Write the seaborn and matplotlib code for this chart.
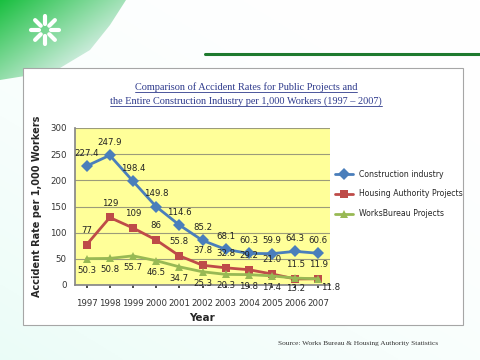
import numpy as np
import pandas as pd
import seaborn as sns
import matplotlib.pyplot as plt
from matplotlib.patches import Polygon, Rectangle

# Values
years = ['1997', '1998', '1999', '2000', '2001', '2002', '2003', '2004', '2005', '2006', '2007']
construction = [227.4, 247.9, 198.4, 149.8, 114.6, 85.2, 68.1, 60.3, 59.9, 64.3, 60.6]
housing = [77, 129, 109, 86, 55.8, 37.8, 32.8, 29.2, 21.0, 11.5, 11.9]
works = [50.3, 50.8, 55.7, 46.5, 34.7, 25.3, 20.3, 19.8, 17.4, 13.2, 11.8]
housing_labels = ['77', '129', '109', '86', '55.8', '37.8', '32.8', '29.2', '21.0', '11.5', '11.9']
series_names = ['Construction industry', 'Housing Authority Projects', 'WorksBureau Projects']

df = pd.DataFrame({
    'Year': years * 3,
    'Rate': construction + housing + works,
    'Series': np.repeat(series_names, len(years)),
})

colors = {'Construction industry': '#4A7EBB',
          'Housing Authority Projects': '#BE4B48',
          'WorksBureau Projects': '#98B954'}
markers = {'Construction industry': 'D',
           'Housing Authority Projects': 's',
           'WorksBureau Projects': '^'}

sns.set_theme(style='white')
plt.rcParams['font.family'] = ['DejaVu Sans']

fig = plt.figure(figsize=(4.8, 3.6), dpi=100)

# slide background
bg = fig.add_axes([0, 0, 1, 1])
bg.set_xlim(0, 480)
bg.set_ylim(360, 0)
bg.axis('off')
gx = np.linspace(0, 1, 200)
gy = np.linspace(0, 1, 150)
GX, GY = np.meshgrid(gx, gy)
t = np.clip(0.55 * GY + 0.45 * (1 - GX), 0, 1) ** 2
img = np.ones((150, 200, 3))
img[..., 0] = 1 - 0.08 * t
img[..., 1] = 1 - 0.01 * t
img[..., 2] = 1 - 0.03 * t
bg.imshow(img, extent=(0, 480, 360, 0), aspect='auto', zorder=0)

# green corner decoration
corner = Polygon([(0, 0), (126, 0), (110, 25), (90, 50), (60, 68), (25, 76), (0, 80)],
                 closed=True, transform=bg.transData)
grad = np.zeros((80, 130, 4))
cx, cy = np.meshgrid(np.linspace(0, 1, 130), np.linspace(0, 1, 80))
k = np.clip(1 - (cx * 0.7 + cy * 0.6), 0, 1)
grad[..., 0] = 0.1 + 0.8 * (1 - k)
grad[..., 1] = 0.75 + 0.2 * (1 - k)
grad[..., 2] = 0.25 + 0.7 * (1 - k)
grad[..., 3] = 1
im = bg.imshow(grad, extent=(0, 130, 80, 0), aspect='auto', zorder=1)
im.set_clip_path(corner)
for ang in np.linspace(0, 2 * np.pi, 8, endpoint=False):
    bg.plot([45 + 6 * np.cos(ang), 45 + 14 * np.cos(ang)],
            [30 + 6 * np.sin(ang), 30 + 14 * np.sin(ang)],
            color='white', lw=3, solid_capstyle='round', zorder=2)
bg.plot([205, 480], [54, 54], color='#1E7A2E', lw=2.2, zorder=2)

# chart box
bg.add_patch(Rectangle((23, 68), 440, 257, facecolor='white', edgecolor='#A6A6A6', lw=0.8, zorder=2))

# title (underlined)
title_lines = ['Comparison of Accident Rates for Public Projects and',
               'the Entire Construction Industry per 1,000 Workers (1997 \u2013 2007)']
title_y = [90, 104]
renderer = fig.canvas.get_renderer()
for line, yy in zip(title_lines, title_y):
    txt = bg.text(246, yy, line, ha='center', va='baseline', fontsize=7.4,
                  family=['Liberation Serif', 'DejaVu Serif'], color='#2E3A8C', zorder=3)
    bb = txt.get_window_extent(renderer).transformed(bg.transData.inverted())
    bg.plot([bb.x0, bb.x1], [yy + 1.5, yy + 1.5], color='#2E3A8C', lw=0.6, zorder=3)

bg.text(358, 344, 'Source: Works Bureau & Housing Authority Statistics', ha='center', va='center',
        fontsize=5.3, family=['Liberation Serif', 'DejaVu Serif'], color='#333333', zorder=3)

# plot area
ax = fig.add_axes([75 / 480, 75 / 360, 255 / 480, 157 / 360])
ax.set_facecolor('#FFFF99')
sns.lineplot(data=df, x='Year', y='Rate', hue='Series', style='Series',
             markers=markers, dashes=False, palette=colors, hue_order=series_names,
             lw=2, markersize=6, markeredgewidth=0, ax=ax, zorder=3)

ax.set_ylim(0, 300)
ax.set_yticks(range(0, 301, 50))
ax.set_xlim(-0.5, len(years) - 0.5)
ax.yaxis.grid(True, color='#9C9C7A', lw=0.8)
ax.set_axisbelow(True)
for side in ['top', 'right']:
    ax.spines[side].set_visible(False)
ax.spines['left'].set_color('#888888')
ax.spines['bottom'].set_color('#888888')
ax.tick_params(axis='both', labelsize=6.2, colors='#333333', length=2)
ax.tick_params(axis='y', pad=4)
ax.tick_params(axis='x', bottom=True, pad=8)
ax.set_xlabel('Year', fontsize=7.5, fontweight='bold', labelpad=4)
ax.set_ylabel('Accident Rate per 1,000 Workers', fontsize=7, fontweight='bold', labelpad=6)

works_offsets = [(0, -5)] * 9 + [(0, -4), (9, -3)]
for i in range(len(years)):
    ax.annotate(f'{construction[i]}', (i, construction[i]), xytext=(0, 6), textcoords='offset points',
                ha='center', va='bottom', fontsize=6.2, color='#222222', zorder=5)
    ax.annotate(housing_labels[i], (i, housing[i]), xytext=(0, 7), textcoords='offset points',
                ha='center', va='bottom', fontsize=6.2, color='#222222', zorder=5)
    ax.annotate(f'{works[i]}', (i, works[i]), xytext=works_offsets[i], textcoords='offset points',
                ha='center', va='top', fontsize=6.2, color='#222222', zorder=5)

leg = ax.legend(loc='center left', bbox_to_anchor=(1.0, 0.58), frameon=False, fontsize=5.6,
                handlelength=2.3, labelspacing=1.4, borderaxespad=0.2)

fig.savefig('out.png', dpi=100)
